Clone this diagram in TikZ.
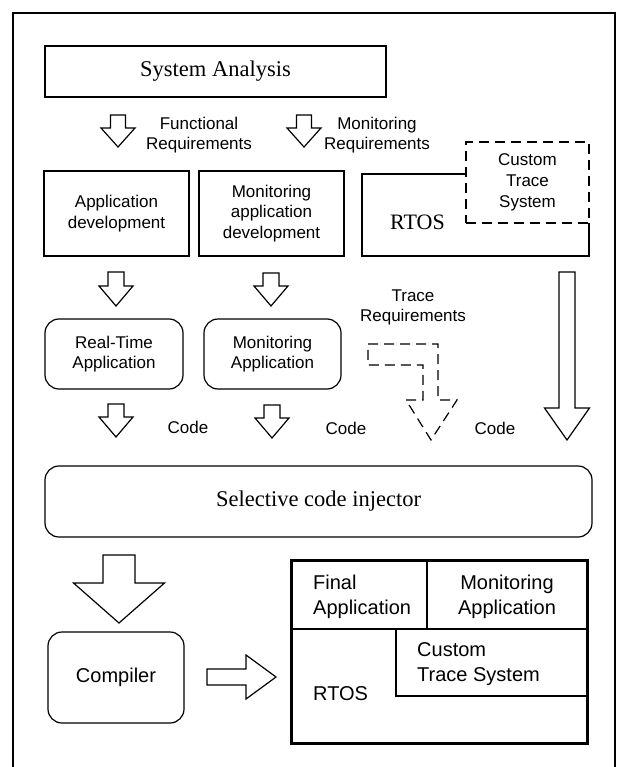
\documentclass[tikz,border=0pt]{standalone}
\usepackage{fontspec}
\setmainfont{Liberation Sans}
\newfontfamily\timesfont{Liberation Serif}

% hollow block arrow pointing down:
% #1 centre x, #2 top y, #3 half shaft width, #4 half head width, #5 head start y, #6 tip y, #7 extra style
\newcommand\blockdown[7][]{%
  \draw[fat,#1] (#2-#4,#3) -- (#2+#4,#3) -- (#2+#4,#6) -- (#2+#5,#6) -- (#2,#7)
    -- (#2-#5,#6) -- (#2-#4,#6) -- cycle;}

\tikzset{
  box/.style={draw, line width=1.2pt, inner sep=0pt, outer sep=0pt},
  rbox/.style={box, rounded corners=14pt},
  lbl/.style={align=center, inner sep=0pt, font=\fontsize{17}{20.5}\selectfont},
  big/.style={inner sep=0pt, font=\fontsize{20}{25}\selectfont},
  serif/.style={inner sep=0pt, font=\timesfont\fontsize{22.5}{26}\selectfont},
  fat/.style={draw, line width=1.2pt, fill=white},
  dashbox/.style={dash pattern=on 10pt off 6pt}
}

\begin{document}
\begin{tikzpicture}[x=1pt,y=-1pt]
\useasboundingbox (0,0) rectangle (617,767);

% outer frame (open at the bottom)
\draw[line width=1.5pt] (13,767) -- (13,13) -- (615,13) -- (615,767);

% analysis stage
\node[box, serif, minimum width=341, minimum height=51] (sysan) at (215.5,71.5) {System Analysis};
\blockdown{118}{115}{7.5}{17}{128}{147}
\blockdown{304}{115}{7.5}{17}{128}{147}
\node[lbl] (freq) at (199,135) {Functional\\Requirements};
\node[lbl] (mreq) at (377,135) {Monitoring\\Requirements};

% development stage
\node[box, lbl, minimum width=145, minimum height=85] (appdev) at (116.5,213.5) {Application\\development};
\node[box, lbl, minimum width=145, minimum height=85] (monappdev) at (271.5,213.5) {Monitoring\\application\\development};
\draw[box] (466,174) -- (362,174) -- (362,256) -- (589,256) -- (589,223);
\node[box, dashbox, lbl, minimum width=123, minimum height=81, font=\fontsize{17}{21}\selectfont] (cts) at (527.5,182.5) {Custom\\Trace\\System};
\node[serif, font=\timesfont\fontsize{22}{26}\selectfont] (rtos) at (417.5,222) {RTOS};

\blockdown{116}{272}{8}{17}{286}{306}
\blockdown{271}{273}{8}{17}{286}{306}

% applications
\node[rbox, lbl, minimum width=138, minimum height=70] (rtapp) at (114,354) {Real-Time\\Application};
\node[rbox, lbl, minimum width=137, minimum height=70] (monapp) at (272.5,354) {Monitoring\\Application};
\node[lbl] (treq) at (413,307.5) {Trace\\Requirements};

% trace requirements path (dashed)
\draw[fat, dashbox] (368,344) -- (438,344) -- (438,400) -- (457,400) -- (431,440)
  -- (406,400) -- (423,400) -- (423,365) -- (368,365) -- cycle;

% RTOS code goes straight down
\blockdown{567}{272}{8}{22.5}{408}{440}

\blockdown{116}{404}{8}{17}{417}{437}
\blockdown{272}{405}{8}{17}{418}{438}
\node[lbl] (code1) at (188,427) {Code};
\node[lbl] (code2) at (346,428) {Code};
\node[lbl] (code3) at (495,428) {Code};

% injection
\node[rbox, serif, minimum width=547, minimum height=71] (inj) at (318.5,501.5) {Selective code injector};
\blockdown{119}{555}{16}{45.5}{583}{623}

% compilation
\node[rbox, big, minimum width=136, minimum height=91] (comp) at (116,677.5) {Compiler};
\draw[fat] (207,669) -- (246,669) -- (246,655) -- (276,677) -- (246,699) -- (246,685) -- (207,685) -- cycle;

% resulting image
\node[draw, line width=3pt, inner sep=0pt, minimum width=296, minimum height=183] (final) at (439,651.5) {};
\draw[line width=1.2pt] (291,629) -- (587,629);
\draw[line width=1.2pt] (427,560) -- (427,629);
\draw[line width=1.2pt] (396,629) -- (396,696) -- (587,696);
\node[big, align=left, anchor=west] (fapp) at (313,596.5) {Final\\Application};
\node[big, align=center] (mapp) at (507,596.5) {Monitoring\\Application};
\node[big, align=left, anchor=west] (ctsys) at (417,664.5) {Custom\\Trace System};
\node[big, anchor=west] (rtosb) at (313,694) {RTOS};
\end{tikzpicture}
\end{document}
